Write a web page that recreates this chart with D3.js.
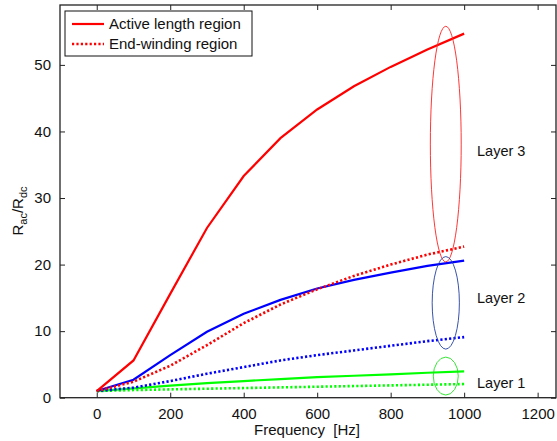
<!DOCTYPE html>
<html>
<head>
<meta charset="utf-8">
<script src="https://cdn.jsdelivr.net/npm/d3@7"></script>
<style>
  body { margin: 0; background: #fff; }
  text { font-family: "Liberation Sans", Arial, sans-serif; fill: #111; }
</style>
</head>
<body>
<div id="chart"></div>
<script>
const frequency = [0, 100, 200, 300, 400, 500, 600, 700, 800, 900, 1000];
const layer3Active = [1, 5.6, 15.6, 25.5, 33.3, 39, 43.3, 46.8, 49.7, 52.3, 54.7];
const layer3End = [1, 2.4, 4.8, 7.9, 11.2, 14, 16.3, 18.3, 20, 21.5, 22.7];
const layer2Active = [1, 2.7, 6.4, 9.9, 12.6, 14.7, 16.4, 17.7, 18.8, 19.8, 20.6];
const layer2End = [1, 1.5, 2.5, 3.6, 4.6, 5.6, 6.4, 7.1, 7.8, 8.5, 9.1];
const layer1Active = [1, 1.4, 1.8, 2.2, 2.5, 2.8, 3.1, 3.3, 3.5, 3.75, 3.95];
const layer1End = [1, 1.15, 1.25, 1.35, 1.45, 1.55, 1.65, 1.75, 1.85, 1.95, 2.05];

const layerNames = ["Layer 3", "Layer 2", "Layer 1"];
const layerColors = ["#ff0000", "#0000ff", "#00ff00"];
const ellipseColors = ["#ff2020", "#2040a0", "#20e020"];
// ellipse centre / radii in data units
const ellipseFreq = [950, 950, 950];
const ellipseFreqRadius = [42, 37, 34];
const ellipseValue = [38.1, 14.25, 3.25];
const ellipseValueRadius = [17.7, 6.95, 2.85];
const labelValue = [37, 15, 2.2];

const xTicks = [0, 200, 400, 600, 800, 1000, 1200];
const yTicks = [0, 10, 20, 30, 40, 50];
const legendLabels = ["Active length region", "End-winding region"];

const width = 557;
const height = 441;
const plotLeft = 60, plotRight = 556, plotTop = 5, plotBottom = 397.7;
const fontSize = 15;

const svg = d3.select("#chart").append("svg")
  .attr("width", width)
  .attr("height", height);

const x = d3.scaleLinear().domain([-100, 1250]).range([plotLeft, plotRight]);
const y = d3.scaleLinear().domain([0, 59]).range([plotBottom, plotTop]);

const series = [
  { v: layer3Active, c: layerColors[0], dash: null },
  { v: layer3End, c: layerColors[0], dash: "2.2,2.2" },
  { v: layer2Active, c: layerColors[1], dash: null },
  { v: layer2End, c: layerColors[1], dash: "2.2,2.2" },
  { v: layer1Active, c: layerColors[2], dash: null },
  { v: layer1End, c: layerColors[2], dash: "2.2,2.2" }
];

const line = d3.line()
  .x((d, i) => x(frequency[i]))
  .y(d => y(d));

svg.append("g").selectAll("path")
  .data(series.slice().reverse())
  .enter()
  .append("path")
  .attr("d", d => line(d.v))
  .attr("fill", "none")
  .attr("stroke", d => d.c)
  .attr("stroke-width", d => d.dash ? 2.6 : 2.2)
  .attr("stroke-dasharray", d => d.dash);

// ellipses around the 950 Hz region
svg.append("g").selectAll("ellipse")
  .data(layerNames)
  .enter()
  .append("ellipse")
  .attr("cx", (d, i) => x(ellipseFreq[i]))
  .attr("cy", (d, i) => y(ellipseValue[i]))
  .attr("rx", (d, i) => x(ellipseFreqRadius[i]) - x(0))
  .attr("ry", (d, i) => y(0) - y(ellipseValueRadius[i]))
  .attr("fill", "none")
  .attr("stroke", (d, i) => ellipseColors[i])
  .attr("stroke-width", 0.9);

svg.append("g").selectAll("text")
  .data(layerNames)
  .enter()
  .append("text")
  .attr("x", 477)
  .attr("y", (d, i) => y(labelValue[i]) + 5)
  .attr("font-size", 14.5)
  .text(d => d);

// axes box
const axisColor = "#222";
svg.append("rect")
  .attr("x", plotLeft).attr("y", plotTop)
  .attr("width", plotRight - plotLeft).attr("height", plotBottom - plotTop)
  .attr("fill", "none")
  .attr("stroke", axisColor)
  .attr("stroke-width", 1.3);

const xAxis = svg.append("g")
  .attr("transform", `translate(0,${plotBottom})`)
  .call(d3.axisBottom(x).tickValues(xTicks).tickFormat(d3.format("d")).tickSize(-5).tickPadding(11));
const xAxisTop = svg.append("g")
  .attr("transform", `translate(0,${plotTop})`)
  .call(d3.axisTop(x).tickValues(xTicks).tickSize(-5).tickFormat(""));
const yAxis = svg.append("g")
  .attr("transform", `translate(${plotLeft},0)`)
  .call(d3.axisLeft(y).tickValues(yTicks).tickSize(-5).tickPadding(9));
const yAxisRight = svg.append("g")
  .attr("transform", `translate(${plotRight},0)`)
  .call(d3.axisRight(y).tickValues(yTicks).tickSize(-5).tickFormat(""));

[xAxis, xAxisTop, yAxis, yAxisRight].forEach(g => {
  g.select(".domain").remove();
  g.selectAll(".tick line").attr("stroke", axisColor).attr("stroke-width", 1);
  g.selectAll(".tick text")
    .attr("font-size", fontSize)
    .attr("font-family", "Liberation Sans, Arial, sans-serif")
    .attr("fill", "#111");
});

// axis labels
svg.append("text")
  .attr("x", 307)
  .attr("y", 435)
  .attr("text-anchor", "middle")
  .attr("font-size", fontSize)
  .style("white-space", "pre")
  .text("Frequency  [Hz]");

const yl = svg.append("text")
  .attr("transform", "translate(23,211) rotate(-90)")
  .attr("text-anchor", "middle")
  .attr("font-size", fontSize);
yl.append("tspan").text("R");
yl.append("tspan").attr("font-size", 11).attr("dy", 4).text("ac");
yl.append("tspan").attr("dy", -4).text("/R");
yl.append("tspan").attr("font-size", 11).attr("dy", 4).text("dc");

// legend
const legend = svg.append("g");
legend.append("rect")
  .attr("x", 65).attr("y", 11)
  .attr("width", 187).attr("height", 45)
  .attr("fill", "#fff")
  .attr("stroke", "#111")
  .attr("stroke-width", 1);
legend.selectAll("line")
  .data(legendLabels)
  .enter()
  .append("line")
  .attr("x1", 72).attr("x2", 104)
  .attr("y1", (d, i) => 24 + i * 20)
  .attr("y2", (d, i) => 24 + i * 20)
  .attr("stroke", layerColors[0])
  .attr("stroke-width", (d, i) => i ? 2.6 : 2.2)
  .attr("stroke-dasharray", (d, i) => i ? "2.2,2.2" : null);
legend.selectAll("text")
  .data(legendLabels)
  .enter()
  .append("text")
  .attr("x", 109)
  .attr("y", (d, i) => 29 + i * 20)
  .attr("font-size", fontSize)
  .text(d => d);
</script>
</body>
</html>
